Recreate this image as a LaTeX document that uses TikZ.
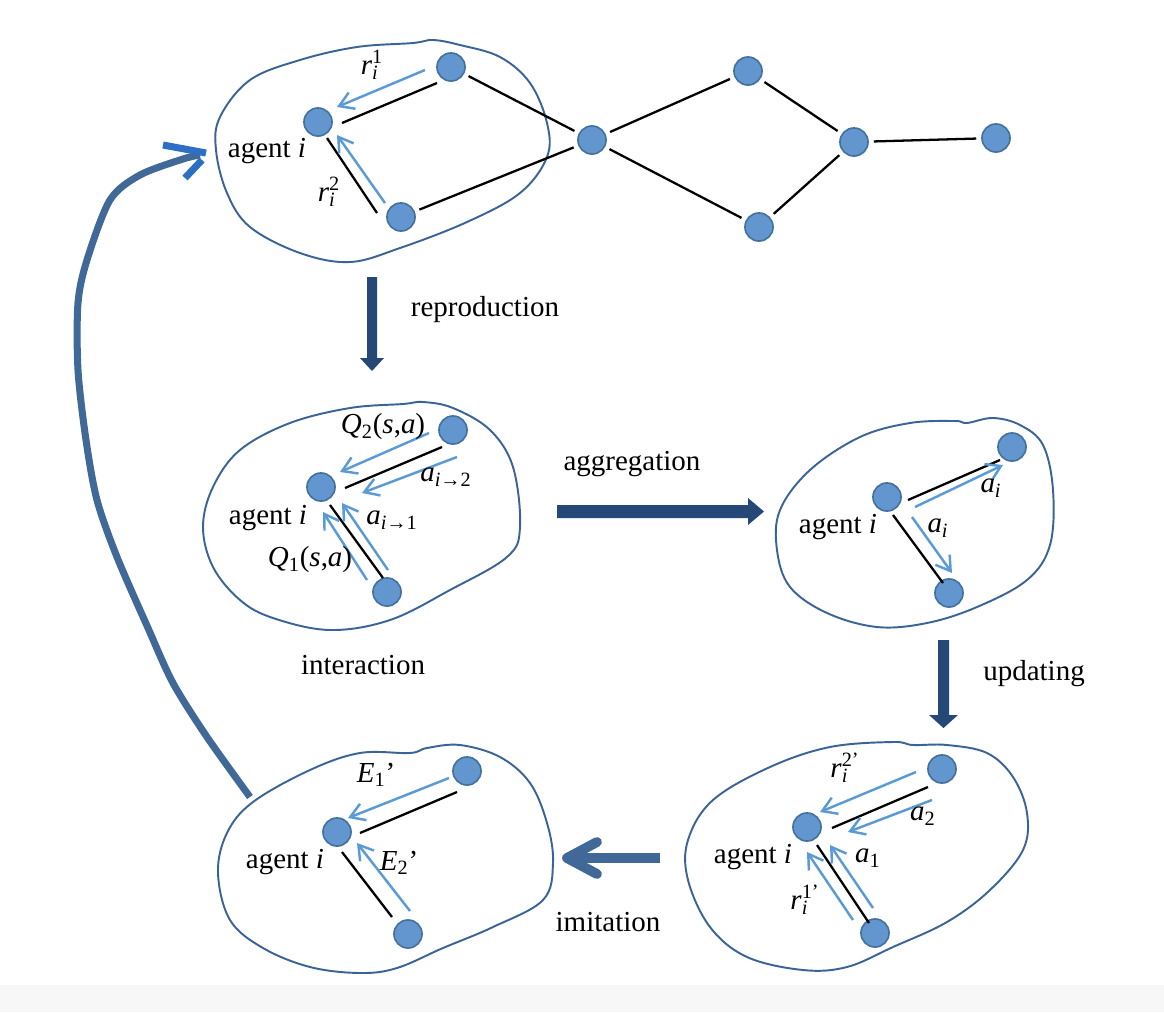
\documentclass[tikz,border=0pt]{standalone}
\usepackage{fontspec}
\setmainfont{Liberation Serif}
\usetikzlibrary{arrows.meta}
\definecolor{blobc}{RGB}{59,100,150}
\definecolor{nodefill}{RGB}{99,149,206}
\definecolor{nodeline}{RGB}{65,113,156}
\definecolor{lblue}{RGB}{91,155,213}
\definecolor{darkarr}{RGB}{37,72,118}
\definecolor{midarr}{RGB}{64,105,152}
\definecolor{headblue}{RGB}{45,112,195}
\newcommand{\ssup}[2]{\rlap{\textsubscript{#1}}\textsuperscript{#2}}
\begin{document}
\begin{tikzpicture}[x=0.02cm,y=-0.02cm,
  agent/.style={circle,fill=nodefill,draw=nodeline,line width=0.9pt,minimum size=16pt,inner sep=0pt},
  blob/.style={draw=blobc,line width=1.1pt},
  edge/.style={draw=black,line width=1.3pt,shorten >=2.8pt,shorten <=2.8pt},
  inedge/.style={draw=black,line width=1.3pt},
  barrow/.style={draw=lblue,line width=1.4pt,-{Straight Barb[length=8pt,width=10pt]}},
  lbl/.style={font=\fontsize{16.5}{19}\selectfont,inner sep=0pt},
  mlbl/.style={font=\fontsize{16.5}{19}\selectfont,inner sep=0pt}]
\useasboundingbox (0,0) rectangle (1164,1012);
\fill[white] (0,0) rectangle (1164,1012);
\fill[black!3] (0,985) rectangle (1164,1012);

% ---------- blobs ----------
\draw[blob] plot[smooth cycle,tension=0.6] coordinates {(433,40) (413,43) (357,47) (300,60) (250,80) (220,117) (216,150) (227,193) (250,227) (300,253) (350,262) (400,248) (467,222) (520,193) (547,157) (547,123) (530,83) (500,57) (460,45)};
\draw[blob] plot[smooth cycle,tension=0.6] coordinates {(423,402) (403,404) (350,408) (290,423) (240,450) (213,487) (203,527) (213,567) (240,600) (273,618) (330,630) (390,620) (450,590) (507,557) (520,527) (513,467) (490,430) (453,408)};
\draw[blob] plot[smooth cycle,tension=0.6] coordinates {(967,423) (955,421) (910,423) (860,437) (810,470) (780,510) (777,550) (790,587) (827,613) (877,627) (927,623) (977,607) (1027,580) (1050,545) (1053,490) (1043,445) (1020,425) (993,418)};
\draw[blob] plot[smooth cycle,tension=0.6] coordinates {(427,748) (410,753) (360,753) (310,770) (253,802) (227,833) (218,873) (230,920) (263,948) (310,967) (360,973) (397,968) (443,948) (493,927) (543,900) (553,863) (547,823) (530,783) (500,757) (460,745)};
\draw[blob] plot[smooth cycle,tension=0.6] coordinates {(913,745) (893,742) (830,747) (770,767) (713,800) (688,840) (688,880) (710,927) (747,957) (803,970) (847,967) (893,947) (947,922) (990,890) (1023,850) (1027,813) (1013,777) (987,753) (947,745)};

% ---------- top network ----------
\node[agent] (A0) at (318,122) {};
\node[agent] (N1) at (451,67) {};
\node[agent] (N2) at (401,217) {};
\node[agent] (C) at (592,140) {};
\node[agent] (T) at (748,71) {};
\node[agent] (B) at (759,227) {};
\node[agent] (R) at (854,142) {};
\node[agent] (F) at (996,138) {};
\draw[edge] (N1) -- (C);
\draw[edge] (N2) -- (C);
\draw[edge] (C) -- (T);
\draw[edge] (C) -- (B);
\draw[edge] (T) -- (R);
\draw[edge] (B) -- (R);
\draw[edge] (R) -- (F);
\coordinate (a0s1) at (342,123); \coordinate (a0e1) at (437,83);
\coordinate (a0s2) at (327,138); \coordinate (a0e2) at (377,213);
\draw[inedge] (a0s1) -- (a0e1);
\draw[inedge] (a0s2) -- (a0e2);
\coordinate (r1s) at (425,70); \coordinate (r1e) at (337,107);
\coordinate (r2s) at (385,203); \coordinate (r2e) at (337,135);
\draw[barrow] (r1s) -- (r1e);
\draw[barrow] (r2s) -- (r2e);
\node[lbl] (tA0) at (267,151) {agent \textit{i}};
\node[mlbl] (tr1) at (372,65) {\textit{r}\ssup{\textit{i}}{1}};
\node[mlbl] (tr2) at (329,192) {\textit{r}\ssup{\textit{i}}{2}};

% ---------- middle left (interaction) ----------
\node[agent] (A1) at (321,487) {};
\node[agent] (P1) at (453,430) {};
\node[agent] (P2) at (387,592) {};
\coordinate (m1a) at (345,488); \coordinate (m1b) at (442,447);
\coordinate (m2a) at (330,505); \coordinate (m2b) at (383,578);
\draw[inedge] (m1a) -- (m1b);
\draw[inedge] (m2a) -- (m2b);
\coordinate (q2s) at (429,433); \coordinate (q2e) at (340,472);
\coordinate (a2s) at (457,457); \coordinate (a2e) at (362,493);
\coordinate (q1s) at (367,580); \coordinate (q1e) at (323,512);
\coordinate (a1s) at (388,570); \coordinate (a1e) at (342,503);
\draw[barrow] (q2s) -- (q2e);
\draw[barrow] (a2s) -- (a2e);
\draw[barrow] (q1s) -- (q1e);
\draw[barrow] (a1s) -- (a1e);
\node[lbl] (tA1) at (268,518) {agent \textit{i}};
\node[mlbl] (tq2) at (383,427) {\textit{Q}\textsubscript{2}(\textit{s},\textit{a})};
\node[mlbl] (ta2) at (446,477) {\textit{a}\textsubscript{\textit{i}→2}};
\node[mlbl] (ta1) at (392,520) {\textit{a}\textsubscript{\textit{i}→1}};
\node[mlbl] (tq1) at (310,560) {\textit{Q}\textsubscript{1}(\textit{s},\textit{a})};
\node[lbl] (tint) at (363,665) {interaction};

% ---------- middle right (aggregation) ----------
\node[agent] (A2) at (887,497) {};
\node[agent] (S1) at (1012,447) {};
\node[agent] (S2) at (949,593) {};
\coordinate (g1a) at (908,500); \coordinate (g1b) at (1000,460);
\coordinate (g2a) at (893,515); \coordinate (g2b) at (943,583);
\draw[inedge] (g1a) -- (g1b);
\draw[inedge] (g2a) -- (g2b);
\coordinate (ai1s) at (915,507); \coordinate (ai1e) at (1003,465);
\coordinate (ai2s) at (912,517); \coordinate (ai2e) at (952,573);
\draw[barrow] (ai1s) -- (ai1e);
\draw[barrow] (ai2s) -- (ai2e);
\node[lbl] (tA2) at (838,527) {agent \textit{i}};
\node[mlbl] (tai1) at (991,488) {\textit{a}\textsubscript{\textit{i}}};
\node[mlbl] (tai2) at (938,528) {\textit{a}\textsubscript{\textit{i}}};

% ---------- bottom left (imitation result) ----------
\node[agent] (A3) at (337,832) {};
\node[agent] (U1) at (467,771) {};
\node[agent] (U2) at (408,934) {};
\coordinate (b1a) at (360,833); \coordinate (b1b) at (457,792);
\coordinate (b2a) at (342,852); \coordinate (b2b) at (392,917);
\draw[inedge] (b1a) -- (b1b);
\draw[inedge] (b2a) -- (b2b);
\coordinate (e1s) at (449,778); \coordinate (e1e) at (348,818);
\coordinate (e2s) at (410,911); \coordinate (e2e) at (357,843);
\draw[barrow] (e1s) -- (e1e);
\draw[barrow] (e2s) -- (e2e);
\node[lbl] (tA3) at (285,862) {agent \textit{i}};
\node[mlbl] (te1) at (376,775) {\textit{E}\textsubscript{1}’};
\node[mlbl] (te2) at (399,863) {\textit{E}\textsubscript{2}’};

% ---------- bottom right (updating) ----------
\node[agent] (A4) at (807,827) {};
\node[agent] (V1) at (942,769) {};
\node[agent] (V2) at (875,933) {};
\coordinate (d1a) at (832,828); \coordinate (d1b) at (928,787);
\coordinate (d2a) at (817,845); \coordinate (d2b) at (869,923);
\draw[inedge] (d1a) -- (d1b);
\draw[inedge] (d2a) -- (d2b);
\coordinate (u1s) at (916,772); \coordinate (u1e) at (820,812);
\coordinate (u2s) at (932,800); \coordinate (u2e) at (848,832);
\coordinate (u3s) at (853,920); \coordinate (u3e) at (807,852);
\coordinate (u4s) at (873,908); \coordinate (u4e) at (830,845);
\draw[barrow] (u1s) -- (u1e);
\draw[barrow] (u2s) -- (u2e);
\draw[barrow] (u3s) -- (u3e);
\draw[barrow] (u4s) -- (u4e);
\node[lbl] (tA4) at (753,857) {agent \textit{i}};
\node[mlbl] (tr2p) at (845,768) {\textit{r}\ssup{\textit{i}}{2'}};
\node[mlbl] (ta2p) at (923,816) {\textit{a}\textsubscript{2}};
\node[mlbl] (ta1p) at (868,858) {\textit{a}\textsubscript{1}};
\node[mlbl] (tr1p) at (805,900) {\textit{r}\ssup{\textit{i}}{1'}};

% ---------- process arrows ----------
\fill[darkarr] (367,277) -- (377,277) -- (377,358) -- (384,358) -- (372,371) -- (360,358) -- (367,358) -- cycle;
\node[lbl] (trep) at (485,310) {reproduction};
\fill[darkarr] (557,505) -- (748,505) -- (748,498) -- (764,511.5) -- (748,525) -- (748,518) -- (557,518) -- cycle;
\node[lbl] (tagg) at (632,464) {aggregation};
\fill[darkarr] (938,640) -- (949,640) -- (949,715) -- (958,715) -- (943.5,728) -- (929,715) -- (938,715) -- cycle;
\node[lbl] (tupd) at (1034,674) {updating};
\draw[midarr,line width=5.6pt] (660,858) -- (572,858);
\draw[midarr,line width=5.6pt,line cap=round,line join=round] (597,842) -- (567,858) -- (597,874);
\node[lbl] (timi) at (608,922) {imitation};

% ---------- big return arrow ----------
\draw[midarr,line width=4pt] plot[smooth,tension=0.5] coordinates {(250,797) (207,737) (173,683) (148,628) (117,557) (97,500) (86,440) (78,370) (78,303) (87,260) (110,200) (140,175) (183,159) (200,155)};
\draw[headblue,line width=4pt] (163,145) -- (206,153);
\draw[headblue,line width=4pt] (185,178) -- (202,160);
\end{tikzpicture}
\end{document}
